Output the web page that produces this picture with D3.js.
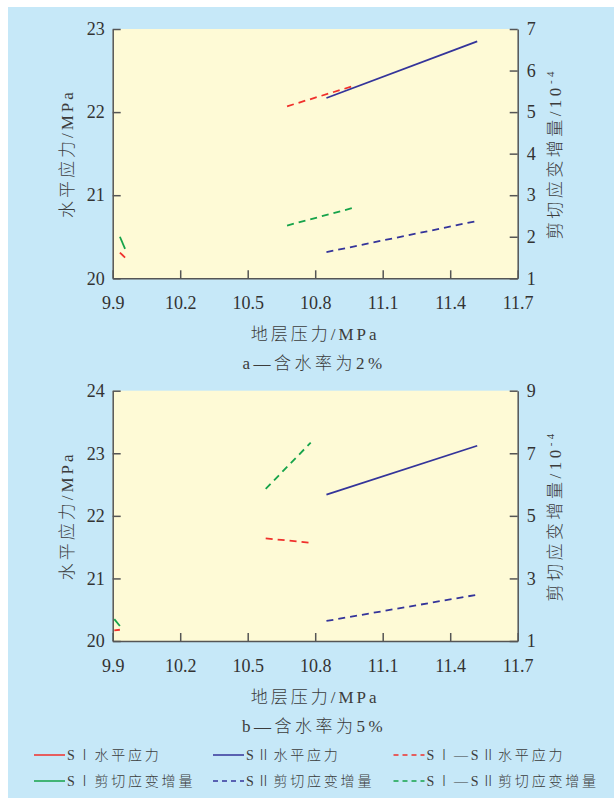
<!DOCTYPE html>
<html>
<head>
<meta charset="utf-8">
<script src="https://cdn.jsdelivr.net/npm/d3@7"></script>
<style>
html,body{margin:0;padding:0;background:#fff;}
svg{display:block;}
</style>
</head>
<body>
<svg id="chart" width="614" height="805"></svg>
<script>
// ---------- data ----------
const xTicks = [9.9, 10.2, 10.5, 10.8, 11.1, 11.4, 11.7];

// chart a: moisture 2%
const aLeftTicks = [20, 21, 22, 23];
const aRightTicks = [1, 2, 3, 4, 5, 6, 7];
const aX_SI = [9.932, 9.955];
const aSI_h = [20.31, 20.25];
const aSI_s = [2.00, 1.71];
const aX_SII = [10.85, 11.52];
const aSII_h = [22.17, 22.85];
const aSII_s = [1.63, 2.38];
const aX_SISII = [10.675, 10.965];
const aSISII_h = [22.07, 22.31];
const aSISII_s = [2.27, 2.69];

// chart b: moisture 5%
const bLeftTicks = [20, 21, 22, 23, 24];
const bRightTicks = [1, 3, 5, 7, 9];
const bX_SI = [9.907, 9.932];
const bSI_h = [20.17, 20.18];
const bSI_s = [1.70, 1.48];
const bX_SII = [10.85, 11.52];
const bSII_h = [22.34, 23.12];
const bSII_s = [1.64, 2.48];
const bX_SISII = [10.58, 10.78];
const bSISII_h = [21.64, 21.57];
const bSISII_s = [5.86, 7.34];

const seriesNames = ["SⅠ水平应力", "SⅡ水平应力", "SⅠ—SⅡ水平应力",
                     "SⅠ剪切应变增量", "SⅡ剪切应变增量", "SⅠ—SⅡ剪切应变增量"];
const subtitles = ["a—含水率为2%", "b—含水率为5%"];

// ---------- style ----------
const RED = "#f0302c", BLUE = "#34349a", GREEN = "#16a34a";
const AXIS = "#555", TXT = "#333", CJKTXT = "#3c3c3c";
const NUMFONT = "'Liberation Serif', 'Times New Roman', serif";
const CJKFONT = "'Liberation Serif', 'Noto Sans CJK SC', serif";

const svg = d3.select("#chart");
svg.append("rect").attr("x", 8).attr("y", 7).attr("width", 606).attr("height", 791).attr("fill", "#c6e8f8");

const L = 112.7, R = 517.7;

function cjkText(sel, size, spacing) {
  return sel.attr("fill", CJKTXT).style("font-family", CJKFONT).style("font-size", size + "px")
    .style("font-weight", 300).style("letter-spacing", spacing + "px");
}

function drawPanel(cfg) {
  const {top, bottom, leftDomain, rightDomain, leftTicks, rightTicks, series, subtitle} = cfg;
  const x = d3.scaleLinear().domain([9.9, 11.7]).range([L, R]);
  const yl = d3.scaleLinear().domain(leftDomain).range([bottom, top]);
  const yr = d3.scaleLinear().domain(rightDomain).range([bottom, top]);
  const g = svg.append("g");
  g.append("rect").attr("x", L).attr("y", top).attr("width", R - L).attr("height", bottom - top).attr("fill", "#fefad6");

  const styleAxis = sel => {
    sel.select(".domain").attr("stroke", AXIS).attr("stroke-width", 1.5);
    sel.selectAll(".tick line").attr("stroke", AXIS).attr("stroke-width", 1.5);
    sel.selectAll(".tick text").attr("fill", TXT).style("font-family", NUMFONT).style("font-size", "18px");
  };
  g.append("g").attr("transform", `translate(0,${bottom})`)
    .call(d3.axisBottom(x).tickValues(xTicks).tickFormat(d3.format(".1f")).tickSizeInner(-8).tickSizeOuter(0).tickPadding(18))
    .call(styleAxis);
  g.append("g").attr("transform", `translate(${L},0)`)
    .call(d3.axisLeft(yl).tickValues(leftTicks).tickFormat(d3.format("d")).tickSizeInner(-8).tickSizeOuter(0).tickPadding(8))
    .call(styleAxis);
  g.append("g").attr("transform", `translate(${R},0)`)
    .call(d3.axisRight(yr).tickValues(rightTicks).tickFormat(d3.format("d")).tickSizeInner(-8).tickSizeOuter(0).tickPadding(9))
    .call(styleAxis);
  g.selectAll(".domain").attr("fill", "none");

  const line = d3.line();
  series.forEach(s => {
    const ys = s.axis === "l" ? yl : yr;
    g.append("path")
      .attr("d", line(s.xs.map((v, i) => [x(v), ys(s.ys[i])])))
      .attr("fill", "none").attr("stroke", s.color).attr("stroke-width", 1.8)
      .attr("stroke-dasharray", s.dash ? "7,5" : null);
  });

  const midY = (top + bottom) / 2;
  // left title
  g.append("text").attr("transform", `translate(73,${midY}) rotate(-90)`)
    .attr("text-anchor", "middle").call(cjkText, 17, 3)
    .text("水平应力/MPa");
  // right title
  const rt = g.append("text").attr("transform", `translate(561,${midY}) rotate(-90)`)
    .attr("text-anchor", "middle").call(cjkText, 17, 3.5);
  rt.append("tspan").text("剪切应变增量/10");
  rt.append("tspan").attr("dy", -7).style("font-size", "11px").text("-4");
  // x title
  g.append("text").attr("x", (L + R) / 2).attr("y", bottom + 62)
    .attr("text-anchor", "middle").call(cjkText, 17, 3)
    .text("地层压力/MPa");
  g.append("text").attr("x", (L + R) / 2 - 1).attr("y", bottom + 91)
    .attr("text-anchor", "middle").call(cjkText, 17, 3.5)
    .text(subtitle);
}

drawPanel({
  top: 29, bottom: 278.3, leftDomain: [20, 23], rightDomain: [1, 7],
  leftTicks: aLeftTicks, rightTicks: aRightTicks, subtitle: subtitles[0],
  series: [
    {xs: aX_SII, ys: aSII_s, axis: "r", color: BLUE, dash: true},
    {xs: aX_SISII, ys: aSISII_s, axis: "r", color: GREEN, dash: true},
    {xs: aX_SISII, ys: aSISII_h, axis: "l", color: RED, dash: true},
    {xs: aX_SII, ys: aSII_h, axis: "l", color: BLUE, dash: false},
    {xs: aX_SI, ys: aSI_s, axis: "r", color: GREEN, dash: false},
    {xs: aX_SI, ys: aSI_h, axis: "l", color: RED, dash: false}
  ]
});
drawPanel({
  top: 390.7, bottom: 641, leftDomain: [20, 24], rightDomain: [1, 9],
  leftTicks: bLeftTicks, rightTicks: bRightTicks, subtitle: subtitles[1],
  series: [
    {xs: bX_SII, ys: bSII_s, axis: "r", color: BLUE, dash: true},
    {xs: bX_SISII, ys: bSISII_s, axis: "r", color: GREEN, dash: true},
    {xs: bX_SISII, ys: bSISII_h, axis: "l", color: RED, dash: true},
    {xs: bX_SII, ys: bSII_h, axis: "l", color: BLUE, dash: false},
    {xs: bX_SI, ys: bSI_s, axis: "r", color: GREEN, dash: false},
    {xs: bX_SI, ys: bSI_h, axis: "l", color: RED, dash: false}
  ]
});

// ---------- legend ----------
const legendItems = [
  {name: seriesNames[0], color: RED, dash: false, col: 0, row: 0},
  {name: seriesNames[1], color: BLUE, dash: false, col: 1, row: 0},
  {name: seriesNames[2], color: RED, dash: true, col: 2, row: 0},
  {name: seriesNames[3], color: GREEN, dash: false, col: 0, row: 1},
  {name: seriesNames[4], color: BLUE, dash: true, col: 1, row: 1},
  {name: seriesNames[5], color: GREEN, dash: true, col: 2, row: 1}
];
const colX = [34, 213, 393.5];
const rowY = [755, 781];
const lg = svg.append("g");
legendItems.forEach(it => {
  const x0 = colX[it.col], y0 = rowY[it.row];
  lg.append("line").attr("x1", x0).attr("x2", x0 + 31).attr("y1", y0).attr("y2", y0)
    .attr("stroke", it.color).attr("stroke-width", 1.5)
    .attr("stroke-dasharray", it.dash ? "5,4" : null);
  lg.append("text").attr("x", x0 + 33).attr("y", y0 + 5).call(cjkText, 14, 2.8)
    .text(it.name);
});
</script>
</body>
</html>
